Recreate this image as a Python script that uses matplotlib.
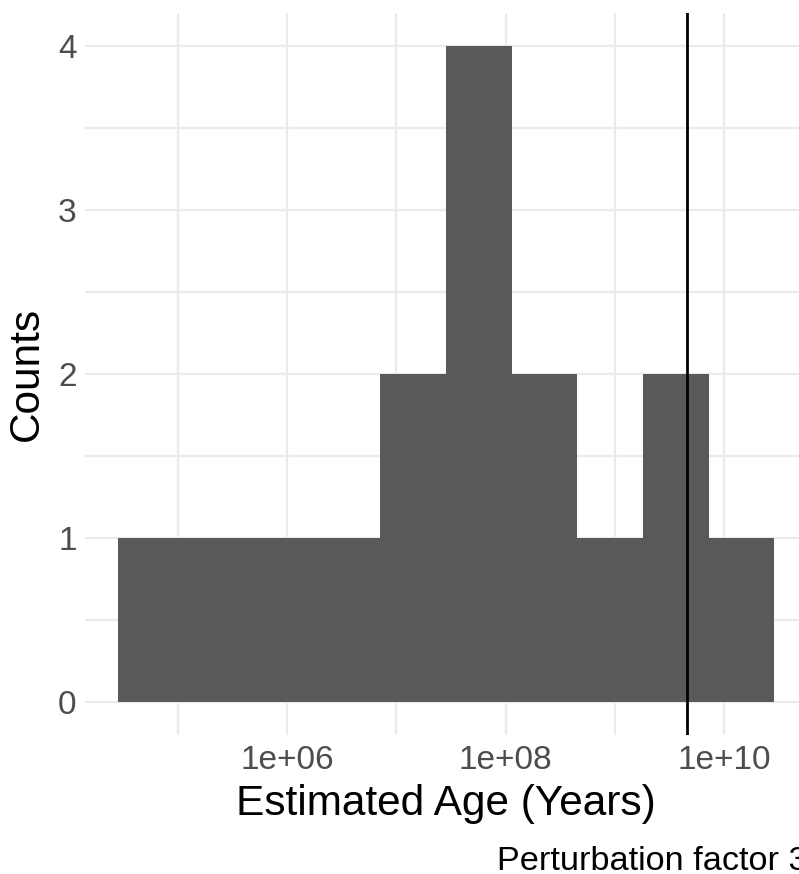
import numpy as np
import matplotlib
matplotlib.use("Agg")
import matplotlib.pyplot as plt
from matplotlib.ticker import FixedLocator, FuncFormatter

# ---- data ----
log_bin_edges = [4.453, 5.0535, 5.654, 6.2545, 6.855, 7.4555, 8.056, 8.6565, 9.257, 9.8575, 10.458]
bin_counts = [1, 1, 1, 1, 2, 4, 2, 1, 2, 1]
reference_age = 4.54e9
x_major_ticks = [1e6, 1e8, 1e10]
x_minor_ticks = [1e5, 1e7, 1e9]
y_major_ticks = [0, 1, 2, 3, 4]
y_minor_ticks = [0.5, 1.5, 2.5, 3.5]
x_title = "Estimated Age (Years)"
y_title = "Counts"
caption = "Perturbation factor 3"

plt.rcParams['font.family'] = ['Liberation Sans', 'DejaVu Sans']

W, H = 799, 874
fig = plt.figure(figsize=(W / 100, H / 100), dpi=100)
# panel in pixels (extends past right edge as in reference)
pl, pr, pt, pb = 85, 807, 13.2, 734.8
ax = fig.add_axes([pl / W, 1 - pb / H, (pr - pl) / W, (pb - pt) / H])

edges = 10 ** np.array(log_bin_edges)
ax.stairs(bin_counts, edges, fill=True, color="#595959", linewidth=0, zorder=2)
ax.axvline(reference_age, color="black", linewidth=2.0, zorder=3)

ax.set_xscale("log")
lo, hi = log_bin_edges[0], log_bin_edges[-1]
ext = 0.05 * (hi - lo)
ax.set_xlim(10 ** (lo - ext), 10 ** (hi + ext))
ymax = max(bin_counts)
ax.set_ylim(-0.05 * ymax, ymax * 1.05)

ax.xaxis.set_major_locator(FixedLocator(x_major_ticks))
ax.xaxis.set_minor_locator(FixedLocator(x_minor_ticks))
ax.xaxis.set_major_formatter(FuncFormatter(lambda v, p: "1e+%02d" % int(round(np.log10(v)))))
ax.xaxis.set_minor_formatter(FuncFormatter(lambda v, p: ""))
ax.yaxis.set_major_locator(FixedLocator(y_major_ticks))
ax.yaxis.set_minor_locator(FixedLocator(y_minor_ticks))

ax.grid(True, which="both", color="#EBEBEB", linewidth=1.6, zorder=0)
ax.set_axisbelow(True)
for s in ax.spines.values():
    s.set_visible(False)
ax.tick_params(which="both", length=0)
ax.tick_params(axis="x", labelsize=24, labelcolor="#4D4D4D", pad=7)
ax.tick_params(axis="y", labelsize=24, labelcolor="#4D4D4D", pad=6)

ax.set_xlabel(x_title, fontsize=30.5, color="black", labelpad=6)
ax.set_ylabel(y_title, fontsize=30.5, color="black", labelpad=8)

fig.text(497 / W, 1 - 870 / H, caption, fontsize=24.7, color="black",
         ha="left", va="baseline")

fig.savefig("out.png", dpi=100)
